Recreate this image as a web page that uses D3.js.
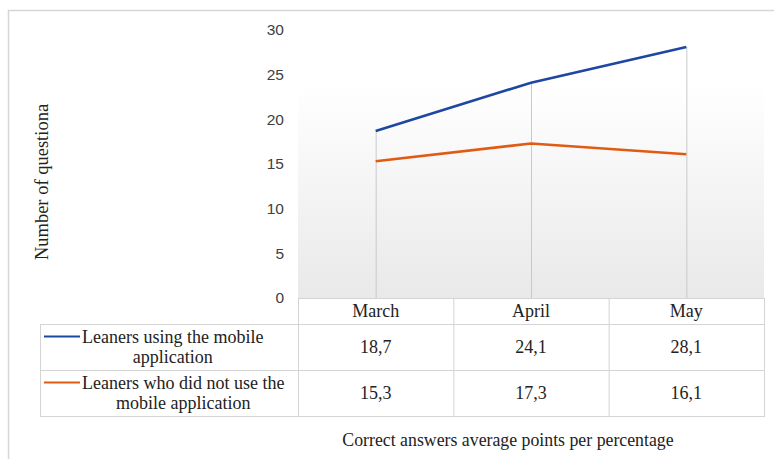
<!DOCTYPE html>
<html><head><meta charset="utf-8">
<script src="https://cdn.jsdelivr.net/npm/d3@7"></script>
<style>body{margin:0;background:#fff;} svg{display:block;}</style>
</head><body>
<svg id="c" width="774" height="459"></svg>
<script>
const months = ["March", "April", "May"];
const seriesNames = ["Leaners using the mobile application", "Leaners who did not use the mobile application"];
const legendLines = [["Leaners using the mobile", "application"], ["Leaners who did not use the", "mobile application"]];
const usingApp = [18.7, 24.1, 28.1];
const notUsingApp = [15.3, 17.3, 16.1];
const yTicks = [0, 5, 10, 15, 20, 25, 30];
const colors = ["#1d47a1", "#e05a12"];
const series = [usingApp, notUsingApp];

const svg = d3.select("#c");
const serif = "'Liberation Serif','Times New Roman',serif";
const sans = "'Liberation Sans',Arial,sans-serif";
const fs = 18;

// outer border (only left/top visible)
svg.append("rect").attr("x", 8.5).attr("y", 10.5).attr("width", 800).attr("height", 500)
  .attr("fill", "none").attr("stroke", "#d6d6d6").attr("stroke-width", 1.5);

const x0 = 298, x1 = 764, yTop = 30, yBot = 298;
const x = d3.scaleBand().domain(months).range([x0, x1]);
const y = d3.scaleLinear().domain([0, 30]).range([yBot, yTop]);

// gradient background
const defs = svg.append("defs");
const g = defs.append("linearGradient").attr("id", "bg").attr("x1", 0).attr("y1", 0).attr("x2", 0).attr("y2", 1);
g.append("stop").attr("offset", "0%").attr("stop-color", "#ffffff");
g.append("stop").attr("offset", "100%").attr("stop-color", "#e9e9e9");
svg.append("rect").attr("x", x0).attr("y", 85).attr("width", x1 - x0).attr("height", yBot - 85).attr("fill", "url(#bg)");

// y axis labels
const yAxis = d3.axisLeft(y).tickValues(yTicks).tickSize(0).tickPadding(0);
const ya = svg.append("g").attr("transform", `translate(284,0)`).call(yAxis);
ya.select(".domain").remove();
ya.selectAll("text").attr("font-family", sans).attr("font-size", 15.5).attr("fill", "#404040");

// drop lines
months.forEach((m, i) => {
  const mx = Math.max(usingApp[i], notUsingApp[i]);
  svg.append("line").attr("x1", x(m) + x.bandwidth() / 2 + 0.5).attr("x2", x(m) + x.bandwidth() / 2 + 0.5)
    .attr("y1", y(mx)).attr("y2", yBot).attr("stroke", "#c9c9c9").attr("stroke-width", 1);
});

// lines
const line = d3.line().x((d, i) => x(months[i]) + x.bandwidth() / 2).y(d => y(d));
series.forEach((s, k) => {
  svg.append("path").datum(s).attr("d", line).attr("fill", "none")
    .attr("stroke", colors[k]).attr("stroke-width", 2.6).attr("stroke-linecap", "butt");
});

// data table
const tx0 = 40, rowH = [298, 324, 370, 416];
const tg = svg.append("g").attr("stroke", "#d4d4d4").attr("stroke-width", 1).attr("fill", "none");
tg.append("rect").attr("x", x0 + 0.5).attr("y", rowH[0] + 0.5).attr("width", x1 - x0).attr("height", rowH[1] - rowH[0]);
tg.append("rect").attr("x", tx0 + 0.5).attr("y", rowH[1] + 0.5).attr("width", x1 - tx0).attr("height", rowH[3] - rowH[1]);
tg.append("line").attr("x1", tx0).attr("x2", x1).attr("y1", rowH[2] + 0.5).attr("y2", rowH[2] + 0.5);
months.forEach((m, i) => {
  if (i > 0) tg.append("line").attr("x1", x(m) + 0.5).attr("x2", x(m) + 0.5).attr("y1", rowH[0]).attr("y2", rowH[3]);
});
tg.append("line").attr("x1", x0 + 0.5).attr("x2", x0 + 0.5).attr("y1", rowH[0]).attr("y2", rowH[3]);

// header texts
months.forEach(m => {
  svg.append("text").attr("x", x(m) + x.bandwidth() / 2).attr("y", 317).attr("text-anchor", "middle")
    .attr("font-family", serif).attr("font-size", fs).attr("fill", "#222").text(m);
});
// values
series.forEach((s, k) => {
  const cy = (rowH[k + 1] + rowH[k + 2]) / 2;
  s.forEach((v, i) => {
    svg.append("text").attr("x", x(months[i]) + x.bandwidth() / 2).attr("y", cy + 6).attr("text-anchor", "middle")
      .attr("font-family", serif).attr("font-size", fs).attr("fill", "#222").text(d3.format(".1f")(v).replace(".", ","));
  });
  // legend key
  const ly = rowH[k + 1] + 12.5;
  svg.append("line").attr("x1", 44).attr("x2", 80).attr("y1", ly).attr("y2", ly)
    .attr("stroke", colors[k]).attr("stroke-width", 2);
  const t1 = svg.append("text").attr("x", 82).attr("y", ly + 6).attr("font-family", serif).attr("font-size", fs)
    .attr("fill", "#222").text(legendLines[k][0]);
  const w = t1.node().getComputedTextLength();
  svg.append("text").attr("x", 82 + w / 2).attr("y", ly + 26).attr("text-anchor", "middle").attr("font-family", serif)
    .attr("font-size", fs).attr("fill", "#222").text(legendLines[k][1]);
});

// axis titles
svg.append("text").attr("transform", "translate(48,182) rotate(-90)").attr("text-anchor", "middle")
  .attr("font-family", serif).attr("font-size", 18.5).attr("fill", "#222").text("Number of questiona");
svg.append("text").attr("x", 508).attr("y", 446).attr("text-anchor", "middle")
  .attr("font-family", serif).attr("font-size", 17.8).attr("fill", "#222").text("Correct answers average points per percentage");
</script>
</body></html>
